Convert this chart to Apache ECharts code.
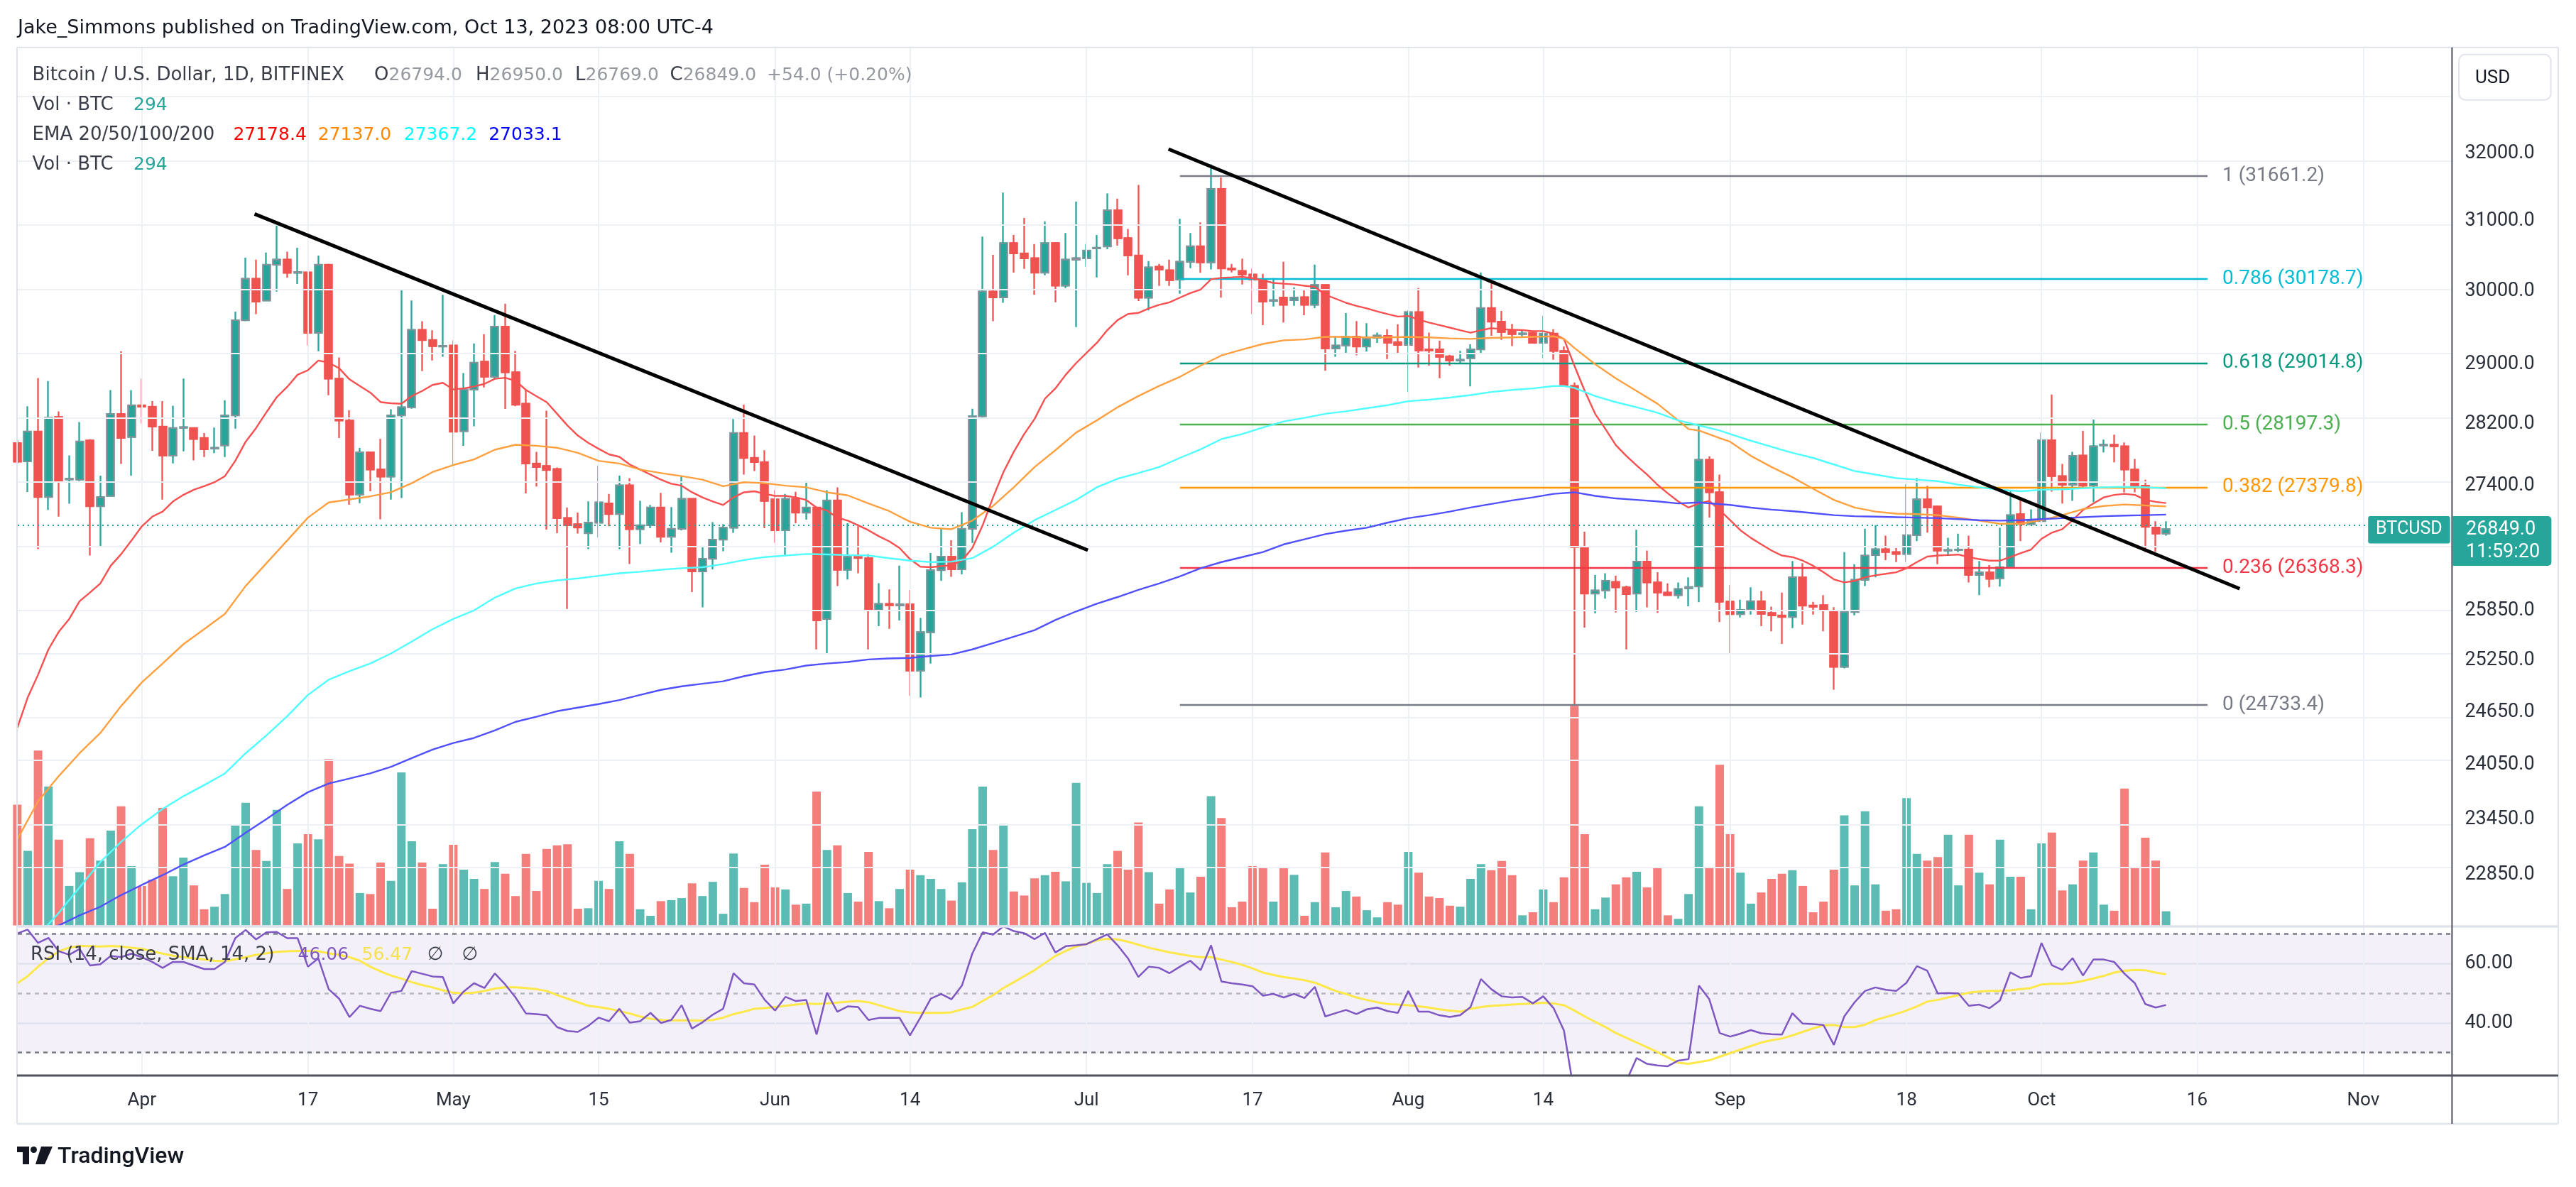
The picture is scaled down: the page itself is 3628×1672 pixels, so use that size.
<!DOCTYPE html>
<html><head><meta charset="utf-8">
<script src="https://cdn.jsdelivr.net/npm/echarts/dist/echarts.min.js"></script>
<style>html,body{margin:0;padding:0;background:#fff}#c{width:3628px;height:1672px}</style>
</head><body><div id="c"></div>
<script>
// Daily candles from 2023-03-20 (index 0) to 2023-10-13 (index 207), BITFINEX BTCUSD 1D
const opens = [
27950,27713,28102,27256,28294,27480,27478,27985,27138,27269,
28334,28031,28449,28430,28168,27790,28150,28148,28018,27880,
27920,28314,29601,30179,29874,30379,30450,30264,30271,29426,
30379,28805,28247,27288,27830,27608,27517,28314,28422,29468,
29328,29240,29255,28107,28660,29034,28830,29513,28891,28470,
27686,27653,27614,26989,26912,26800,26931,27174,27039,27405,
26849,26899,27122,26754,26855,27232,26326,26480,26718,26867,
28083,27758,27705,27225,26836,27232,27058,27122,25748,27213,
26345,26505,26489,25857,25930,25910,25925,25134,25589,26340,
26508,26352,26855,28302,30000,29920,30686,30540,30470,30266,
30686,30082,30450,30470,30610,30640,31160,30757,30510,29915,
30350,30300,30168,30420,30640,30412,31473,30325,30290,30240,
30168,29870,29915,29880,29920,29815,30093,29214,29255,29372,
29240,29360,29386,29300,29262,29713,29200,29200,29107,29050,
29080,29200,29770,29580,29455,29410,29430,29290,29416,29179,
28706,26627,26055,26092,26197,26130,26055,26446,26190,26067,
26036,26120,26140,27733,27316,25956,25805,25860,25962,25820,
25790,25770,26253,25910,25913,25840,25178,25830,26222,26527,
26600,26564,26540,26775,27225,27135,26583,26590,26596,26283,
26315,26240,26377,27040,26912,26950,27988,27523,27413,27790,
27400,27920,27930,27910,27608,27400,26870,26794];
const highs = [
27990,28435,28812,28772,28368,27790,28227,28000,27530,28650,
29175,28650,28805,28503,28503,28443,28805,28150,28083,28155,
28516,29720,30479,30450,30550,30964,30564,30620,30280,30507,
30393,29091,28381,27888,27835,28005,28395,30029,29874,29587,
29461,29955,29325,28880,29283,29409,29674,29830,29180,28660,
27837,28376,27634,27122,27058,27200,27660,27296,27530,27497,
27207,27155,27309,27128,27530,27240,26633,26937,26911,28267,
28456,28049,27857,27342,27296,27322,27459,27128,27342,27380,
26925,26886,26540,26180,26105,26397,26099,25759,26553,26855,
26710,27064,28402,30780,30518,31418,30803,31050,30672,31000,
30700,30830,31286,30672,30803,31406,31330,30890,31530,30430,
30390,30450,31037,30830,30985,31835,31640,30390,30465,30325,
30250,30190,30420,30060,30030,30379,30100,29386,29700,29590,
29560,29430,29478,29545,29740,30050,29430,29320,29128,29180,
29270,30268,30168,29730,29550,29475,29448,29660,29478,29242,
28753,26818,26284,26302,26271,26150,26842,26584,26315,26178,
26190,26253,28182,27778,27543,26160,25980,26130,26086,25895,
26067,26453,26428,25955,26036,25890,26564,26415,26855,26899,
26768,26614,27423,27497,27398,27148,26742,26793,26768,26453,
26403,26868,27329,27251,27100,28088,28592,27680,27837,28110,
28260,27995,28060,27960,27745,27477,26950,26950];
const lows = [
27690,27321,26600,27092,27006,27170,27460,26521,26633,27260,
27680,27530,28207,27850,27223,27686,27843,27725,27770,27820,
27770,28140,29587,29685,29874,30000,30193,30107,29252,29175,
28583,28018,27157,27177,27330,26973,27223,27243,28402,28906,
29049,29100,27672,27915,28170,28687,28796,28400,28435,27302,
27390,26844,26800,25868,26795,26600,26747,26886,26600,26416,
26665,26861,26685,26557,26836,26073,25888,26350,26575,26804,
27543,27589,26862,26680,26529,26925,26968,25384,25332,26147,
26227,26302,25384,25660,25630,25730,24838,24820,25217,26210,
26258,26290,26677,28268,29588,29843,30266,30318,29955,30230,
29850,30050,29505,30350,30200,30600,30650,30230,29867,29738,
30080,30080,29970,30330,30264,30311,29915,30270,30100,29685,
29534,29790,29570,29800,29670,29770,28911,29100,29145,29120,
29170,29290,29070,29140,28625,28953,28980,28810,28980,29000,
28700,29150,29386,29330,29245,29380,29283,29080,29060,28700,
24733.4,25643,25814,25993,25826,25384,25832,25888,25820,26024,
25993,25900,25950,26995,25710,25336,25765,25800,25660,25600,
25450,25637,25680,25800,25600,24910,25160,25790,26147,26253,
26465,26440,26440,26700,26806,26415,26521,26564,26190,26036,
26130,26140,26365,26700,26905,26945,27325,27174,27206,27360,
27190,27830,27700,27316,27316,26563,26570,26769];
const closes = [
27710,28102,27256,28287,27465,27490,27972,27138,27256,28334,
28018,28449,28430,28168,27790,28148,28160,28005,27870,27890,
28314,29601,30179,29860,30379,30450,30264,30275,29426,30379,
28805,28247,27288,27830,27608,27517,28314,28422,29468,29328,
29245,29250,28100,28660,29020,28830,29513,28891,28456,27686,
27640,27601,26989,26900,26870,26931,27187,27039,27405,26849,
26899,27122,26754,26855,27232,26326,26480,26718,26867,28083,
27758,27705,27206,26836,27232,27058,27122,25730,27213,26345,
26505,26490,25857,25930,25912,25925,25134,25589,26340,26508,
26352,26855,28302,30000,29920,30686,30540,30470,30266,30686,
30082,30450,30470,30580,30620,31160,30757,30510,29915,30340,
30311,30160,30420,30640,30412,31473,30325,30311,30240,30168,
29860,29880,29815,29915,29815,30093,29214,29255,29372,29240,
29344,29390,29290,29262,29713,29186,29186,29100,29050,29060,
29200,29770,29580,29440,29410,29420,29290,29416,29179,28706,
26627,26055,26092,26210,26130,26049,26446,26190,26067,26036,
26110,26135,27733,27316,25956,25805,25857,25962,25810,25790,
25770,26253,25907,25895,25857,25178,25830,26222,26521,26600,
26564,26540,26775,27225,27122,26583,26590,26595,26283,26315,
26234,26377,27026,26912,26950,27988,27523,27413,27785,27400,
27910,27930,27910,27608,27400,26880,26794,26849];
const volumes = [
2499,1544,3623,2877,1775,819,1103,1806,1344,1964,
2468,1229,819,945,2436,1019,1407,830,336,389,
651,2069,2541,1565,1334,2394,756,1701,1890,1785,
3444,1439,1281,672,651,1302,924,3171,1743,1302,
347,1271,1670,1155,966,756,1313,1071,609,1481,
714,1586,1659,1680,347,357,924,756,1743,1481,
336,200,504,525,567,872,609,903,242,1491,
777,483,1260,788,746,431,452,2772,1565,1659,
672,494,1523,504,357,756,1155,1040,966,756,
515,893,1995,2877,1565,2100,704,620,977,1040,
1113,914,2951,882,672,1271,1544,1155,2132,1103,
452,746,1187,683,1008,2678,2226,378,494,1229,
1187,494,1208,1050,200,483,1512,378,714,599,
315,168,483,431,1523,1092,599,567,410,389,
966,1271,1145,1334,1040,210,273,746,483,998,
4547,1890,336,578,851,998,1113,788,1187,210,
137,651,2468,1197,3329,1890,1092,452,683,966,
1071,1145,819,273,494,1155,2279,830,2363,851,
305,336,2636,1481,1344,1418,1880,830,1880,1092,
851,1775,1008,1008,336,1701,1922,725,851,1344,
1512,431,305,2835,1187,1817,1344,294];
const ema20 = [
24471,24820,25086,25384,25595,25747,25962,26067,26178,26395,
26538,26708,26886,27007,27071,27200,27283,27348,27393,27445,
27523,27720,27969,28148,28356,28558,28694,28857,28918,29049,
29021,28945,28795,28706,28618,28490,28476,28469,28571,28639,
28720,28748,28660,28673,28700,28734,28802,28816,28775,28653,
28571,28490,28336,28181,28049,27955,27877,27804,27772,27673,
27608,27543,27478,27426,27400,27316,27251,27200,27155,27251,
27316,27329,27296,27270,27270,27251,27219,27122,27084,26995,
26957,26899,26836,26761,26698,26614,26477,26383,26377,26390,
26402,26458,26614,26899,27251,27575,27838,28069,28268,28537,
28673,28857,29014,29153,29290,29464,29603,29687,29702,29765,
29815,29850,29915,29978,30029,30172,30193,30200,30208,30186,
30157,30121,30110,30100,30082,30067,29955,29900,29843,29800,
29765,29723,29687,29652,29659,29610,29568,29534,29499,29464,
29430,29464,29492,29478,29471,29464,29451,29451,29416,29341,
28980,28639,28336,28134,27923,27785,27660,27543,27413,27303,
27200,27122,27174,27206,27090,26963,26836,26741,26660,26583,
26521,26502,26458,26395,26315,26228,26191,26209,26253,26278,
26296,26315,26365,26440,26508,26521,26527,26533,26502,26477,
26458,26458,26502,26552,26596,26729,26806,26849,26963,27090,
27174,27251,27283,27296,27283,27219,27195,27178.4];
// [day index, value]
const ema50 = [[0,23229],[2,23646],[4,23927],[6,24183],[8,24413],[10,24721],[12,24997],[14,25217],[16,25445],[18,25625],[20,25808],[22,26147],[24,26426],[26,26708],[28,26995],[30,27187],[32,27225],[34,27264],[36,27316],[38,27432],[40,27575],[42,27666],[44,27738],[46,27864],[48,27929],[50,27916],[52,27890],[54,27824],[56,27720],[58,27686],[60,27608],[62,27562],[64,27523],[66,27478],[68,27393],[70,27445],[72,27432],[74,27400],[76,27380],[78,27316],[80,27277],[82,27174],[84,27077],[86,26944],[88,26868],[90,26849],[92,26957],[94,27142],[96,27380],[98,27640],[100,27857],[102,28088],[104,28249],[106,28423],[108,28571],[110,28706],[112,28829],[114,28980],[116,29118],[118,29199],[120,29275],[122,29325],[124,29337],[126,29372],[128,29372],[130,29365],[132,29365],[134,29372],[136,29365],[138,29351],[140,29344],[142,29358],[144,29365],[146,29372],[148,29379],[149,29344],[150,29220],[152,29000],[154,28808],[156,28639],[158,28470],[160,28249],[161,28134],[162,28115],[164,28016],[165,27969],[167,27785],[169,27640],[171,27510],[173,27361],[175,27219],[177,27122],[179,27071],[181,27045],[183,27039],[185,27026],[187,26995],[189,26957],[191,26918],[193,26918],[195,26963],[197,27026],[199,27103],[201,27142],[203,27161],[205,27148],[207,27137]];
const ema100 = [[0,21950],[2,22210],[4,22446],[6,22714],[8,22985],[10,23202],[12,23395],[14,23562],[16,23702],[18,23826],[20,23956],[22,24183],[24,24385],[26,24604],[28,24850],[30,25027],[32,25128],[34,25217],[36,25336],[38,25476],[40,25625],[42,25747],[44,25851],[46,26005],[48,26117],[50,26178],[52,26216],[54,26240],[56,26271],[58,26302],[60,26321],[62,26346],[64,26365],[66,26377],[68,26415],[70,26465],[72,26502],[74,26521],[76,26540],[78,26534],[80,26527],[82,26521],[84,26489],[86,26458],[88,26440],[90,26446],[92,26489],[94,26630],[96,26806],[98,26963],[100,27090],[102,27219],[104,27380],[106,27490],[108,27562],[110,27640],[112,27758],[114,27870],[116,28003],[118,28069],[120,28156],[122,28235],[124,28282],[126,28336],[128,28369],[130,28410],[132,28450],[134,28503],[136,28523],[138,28551],[140,28585],[142,28626],[144,28653],[146,28673],[148,28706],[149,28706],[150,28680],[152,28571],[154,28490],[156,28423],[158,28349],[160,28249],[162,28182],[164,28115],[165,28069],[167,27982],[169,27903],[171,27824],[173,27758],[175,27673],[177,27588],[179,27543],[181,27497],[183,27478],[185,27458],[187,27413],[189,27380],[191,27348],[193,27329],[195,27348],[197,27354],[199,27367],[201,27380],[203,27387],[205,27380],[207,27367.2]];
const ema200 = [[0,22180],[2,22240],[4,22314],[6,22420],[8,22510],[10,22633],[12,22741],[14,22845],[16,22958],[18,23056],[20,23148],[22,23302],[24,23451],[26,23607],[28,23747],[30,23843],[32,23899],[34,23956],[36,24030],[38,24127],[40,24224],[42,24298],[44,24356],[46,24442],[48,24540],[50,24598],[52,24662],[54,24703],[56,24744],[58,24791],[60,24850],[62,24909],[64,24950],[66,24980],[68,25009],[70,25068],[72,25116],[74,25146],[76,25193],[78,25217],[80,25235],[82,25265],[84,25277],[86,25283],[88,25306],[90,25324],[92,25384],[94,25458],[96,25535],[98,25613],[100,25735],[102,25838],[104,25931],[106,26012],[108,26099],[110,26178],[112,26265],[114,26365],[116,26440],[118,26502],[120,26564],[122,26660],[124,26724],[126,26787],[128,26831],[130,26868],[132,26931],[134,26988],[136,27026],[138,27071],[140,27122],[142,27168],[144,27213],[146,27251],[148,27296],[150,27316],[152,27270],[154,27238],[156,27219],[158,27200],[160,27174],[162,27187],[165,27155],[167,27122],[169,27096],[171,27077],[173,27052],[175,27026],[177,27013],[179,27007],[181,27001],[183,26995],[185,26988],[187,26976],[189,26963],[191,26957],[193,26963],[195,26976],[197,26988],[199,27001],[201,27013],[203,27020],[205,27026],[207,27033.1]];
const rsi = [
70.2,71.5,67.0,68.7,64.2,63.0,65.0,59.4,59.8,62.6,
62.2,63.4,62.2,60.6,58.6,60.6,60.6,59.4,58.2,58.2,
60.6,68.6,71.4,68.2,70.6,70.7,68.6,68.6,59.0,61.8,
51.4,48.2,42.0,45.8,44.8,44.0,50.2,50.8,57.5,56.6,
55.7,55.5,46.6,50.6,53.4,51.8,56.7,53.0,48.6,43.2,
43.0,42.6,38.6,37.3,37.0,39.0,41.8,40.6,44.8,40.1,
40.6,43.4,40.0,41.0,46.0,38.1,40.2,42.8,44.8,56.8,
53.4,53.0,47.8,44.2,48.8,47.4,47.8,36.1,50.2,43.8,
45.6,45.4,41.0,41.7,41.7,41.7,35.8,41.8,48.2,49.8,
48.0,52.6,63.4,70.6,69.8,72.6,71.0,70.3,68.3,70.4,
63.8,65.9,66.2,66.6,68.2,69.9,66.2,61.8,55.5,59.0,
58.6,56.8,59.0,61.0,57.8,66.2,54.0,53.4,53.0,52.4,
49.2,49.8,48.6,49.8,48.4,52.2,42.2,43.3,44.4,43.0,
44.6,45.2,44.0,43.4,50.8,43.8,43.8,42.6,42.0,42.6,
45.4,54.8,51.4,49.0,48.6,48.8,46.6,49.0,45.0,37.4,
16.0,15.0,16.5,17.5,17.0,20.3,28.2,26.2,25.7,25.4,
27.3,27.8,52.6,48.0,36.6,35.4,36.4,37.6,36.5,36.2,
36.1,43.3,39.8,39.6,39.3,32.6,42.2,47.0,50.8,52.0,
51.2,50.8,53.6,59.2,57.6,50.0,50.1,50.0,45.8,46.2,
45.0,47.6,57.1,55.2,55.8,67.0,59.5,57.9,61.9,56.0,
61.4,61.4,60.6,56.6,53.4,46.4,45.2,46.06];
const rsiMa = [
53.4,55.8,59.0,61.8,64.2,65.4,66.0,65.9,65.8,66.0,
65.8,65.4,65.0,64.2,63.4,62.7,62.2,61.8,61.4,61.0,
60.8,61.5,62.2,63.0,63.5,64.0,64.2,64.3,64.3,64.2,
63.5,63.0,62.2,61.0,59.0,57.4,56.0,55.0,53.8,52.8,
52.0,51.0,50.2,50.0,50.2,50.8,51.6,52.0,52.0,51.8,
51.4,50.8,49.4,48.2,47.0,45.8,45.4,44.8,44.0,43.2,
42.2,41.4,41.0,40.9,40.9,40.8,40.8,41.0,41.8,43.0,
43.8,44.8,45.0,45.4,45.8,46.2,46.6,46.4,46.6,46.9,
47.2,47.4,47.0,46.0,45.0,44.0,43.6,43.4,43.4,43.4,
43.6,44.6,45.4,47.4,49.4,51.8,53.8,55.8,57.8,60.2,
62.6,64.3,65.8,66.7,67.9,68.4,68.2,67.4,66.4,65.4,
64.6,63.8,63.2,62.6,62.2,62.2,61.4,60.6,59.6,58.4,
57.0,56.2,55.5,55.0,54.4,53.6,52.2,50.8,49.8,48.6,
47.8,47.0,46.4,46.2,46.0,45.6,45.2,44.6,44.2,43.8,
44.8,45.4,45.8,46.0,46.2,46.4,46.6,46.8,46.6,46.0,
44.2,42.2,40.4,38.6,36.6,35.0,33.4,31.8,30.2,28.4,
26.6,26.2,26.8,27.4,28.6,29.8,31.0,32.2,33.4,34.2,
34.8,35.8,37.0,38.2,39.2,39.3,38.6,38.6,39.4,41.0,
42.0,43.0,44.2,45.6,47.2,47.8,48.6,49.4,50.2,50.6,
50.8,50.8,51.0,51.4,51.8,53.0,53.2,53.2,53.5,54.2,
55.0,55.9,57.0,57.6,57.9,57.8,57.0,56.47];
// Fibonacci retracement (Jul 10 .. Oct 17)
const fibLevels = ['1','0.786','0.618','0.5','0.382','0.236','0'];
const fibPrices = [31661.2,30178.7,29014.8,28197.3,27379.8,26368.3,24733.4];
const fibColors = ['#787b86','#00bcd4','#089981','#4caf50','#ff9800','#f23645','#787b86'];
const fibRange = [112, 211];
// trend lines: [day index, price]
const trend1 = [[22.86,31107],[103.13,26587]];
const trend2 = [[110.90,32063],[214.09,26114]];
const lastPrice = 26849.0;
const priceTicks = [32000,31000,30000,29000,28200,27400,25850,25250,24650,24050,23450,22850];
const priceGrid = [33000,32000,31000,30000,29000,28200,27400,26600,25850,25250,24650,24050,23450,22850];
const timeTicks = [[12,'Apr'],[28,'17'],[42,'May'],[56,'15'],[73,'Jun'],[86,'14'],[103,'Jul'],[119,'17'],[134,'Aug'],[147,'14'],[165,'Sep'],[182,'18'],[195,'Oct'],[210,'16'],[226,'Nov']];
const rsiTicks = [60,40];

const LN = Math.log;
const X_MIN = 0.044, X_MAX = 234.55;
const P_MIN = 22304, P_MAX = 33623;
const R_MIN = 22.263, R_MAX = 72.563;
const VOL_MAX = 8873;
const GL = 25, GW = 3428.4;
const tickName = {}; timeTicks.forEach(t => tickName[t[0]] = t[1]);

const candleData = closes.map((c,i)=>[i, LN(opens[i]), LN(c), LN(lows[i]), LN(highs[i])]);
const bodyData = closes.map((c,i)=>[i, LN(opens[i]), LN(c), LN(Math.min(opens[i],c)), LN(Math.max(opens[i],c))]);
const volData = volumes.map((v,i)=>({value:[i,v], itemStyle:{color: closes[i]>=opens[i] ? '#5cbcb3' : '#f37e7c'}}));
const lnPairs = arr => arr.map(p => [p[0], LN(p[1])]);

const gridColor = '#edf0f5';
const noLbl = {show:false};
const mlBase = {silent:true, symbol:['none','none'], animation:false, label:noLbl};

const LF = '26px "DejaVu Sans"';
const VF = '25px "DejaVu Sans"';
const NF = '27px Roboto';
const dark = '#3a3d47', grayV = '#96989f';
const T = (x,y,text,fill,font,align) => ({type:'text', z:100, silent:true, style:{x, y, text, fill, font: font||LF, align: align||'left', verticalAlign:'middle'}});
const Ln = (x1,y1,x2,y2,stroke,w) => ({type:'line', z:99, silent:true, shape:{x1,y1,x2,y2}, style:{stroke, lineWidth:w}});

const graphics = [
  T(25,40,'Jake_Simmons published on TradingView.com, Oct 13, 2023 08:00 UTC-4','#131722','27px "DejaVu Sans"'),
  T(45.6,106,'Bitcoin / U.S. Dollar, 1D, BITFINEX',dark),
  T(527,106,'O',dark), T(547.5,106,'26794.0',grayV,VF),
  T(670,106,'H',dark), T(689.6,106,'26950.0',grayV,VF),
  T(810,106,'L',dark), T(824.5,106,'26769.0',grayV,VF),
  T(943.6,106,'C',dark), T(961.7,106,'26849.0',grayV,VF),
  T(1080,106,'+54.0 (+0.20%)',grayV,VF),
  T(45.6,148,'Vol · BTC',dark), T(188,148,'294','#26a69a',VF),
  T(45.6,190,'EMA 20/50/100/200',dark), T(328.4,190,'27178.4','#ff0000',VF), T(447.8,190,'27137.0','#ff8800',VF), T(568.8,190,'27367.2','#00ffff',VF), T(688.2,190,'27033.1','#0000ff',VF),
  T(45.6,232,'Vol · BTC',dark), T(188,232,'294','#26a69a',VF),
  T(43,1345,'RSI (14, close, SMA, 14, 2)',dark), T(419.6,1345,'46.06','#7e57c2',VF), T(509.5,1345,'56.47','#f5e050',VF), T(601.7,1345,'∅',dark), T(650.5,1345,'∅',dark),
  // frame
  Ln(24,66.7,3603,66.7,'#e0e3eb',2), Ln(24,66.7,24,1583,'#e0e3eb',2), Ln(3603,66.7,3603,1583,'#e0e3eb',2), Ln(24,1583,3603,1583,'#e0e3eb',2.5),
  Ln(24,1305,3603,1305,'#e0e3eb',3.5),
  Ln(3453.4,66.7,3453.4,1583,'#50535e',2), Ln(24,1515,3603,1515,'#50535e',3),
  {type:'rect', z:100, silent:true, shape:{x:3463,y:76.7,width:129.7,height:64,r:9}, style:{fill:'#fff', stroke:'#e0e3eb', lineWidth:2}},
  T(3486,110,'USD','#131722','26px Roboto'),
  // TradingView logo
  {type:'rect', z:100, silent:true, shape:{x:24,y:1615,width:17,height:8}, style:{fill:'#131722'}},
  {type:'rect', z:100, silent:true, shape:{x:32,y:1615,width:9,height:25}, style:{fill:'#131722'}},
  {type:'circle', z:100, silent:true, shape:{cx:47.5,cy:1619.5,r:4.5}, style:{fill:'#131722'}},
  {type:'polygon', z:100, silent:true, shape:{points:[[58,1615],[74,1615],[63,1640],[50,1640]]}, style:{fill:'#131722'}},
  T(81,1630,'TradingView','#131722','500 32px Roboto')
];

const fibMarks = fibPrices.map((p,k)=>[
  {coord:[fibRange[0], LN(p)], lineStyle:{color:fibColors[k], width:2.3, type:'solid'},
   label:{show:true, position:'end', distance:21, formatter: fibLevels[k]+' ('+p.toFixed(1)+')', color:fibColors[k], fontSize:28, fontFamily:'Roboto'}},
  {coord:[fibRange[1], LN(p)]}
]);

const emaSeries = (data, color) => ({type:'line', xAxisIndex:0, yAxisIndex:0, data, showSymbol:false, symbol:'none', z:5, silent:true,
  lineStyle:{color, width:2.4}, animation:false});

const option = {
  animation:false,
  backgroundColor:'#ffffff',
  grid:[
    {left:GL, top:66.7, width:GW, height:1238.3},
    {left:GL, top:700, width:GW, height:603.6},
    {left:GL, top:1305, width:GW, height:210}
  ],
  xAxis:[0,1,2].map(g=>({type:'value', gridIndex:g, min:X_MIN, max:X_MAX,
    axisLine:{show:false}, axisTick:{show:false}, splitLine:{show:false},
    axisLabel: g===2 ? {show:true, customValues: timeTicks.map(t=>t[0]), formatter: v => tickName[Math.round(v)] || '',
      margin:35, verticalAlign:'middle', fontSize:26, fontFamily:'Roboto', color:'#2a2e39'} : {show:false}})),
  yAxis:[
    {type:'value', gridIndex:0, position:'right', min:LN(P_MIN), max:LN(P_MAX),
     axisLine:{show:false}, axisTick:{show:false}, splitLine:{show:false},
     axisLabel:{customValues: priceTicks.map(LN), formatter: v => Math.round(Math.exp(v)).toFixed(1), margin:18, fontSize:27, fontFamily:'Roboto', color:'#2a2e39'}},
    {type:'value', gridIndex:1, min:0, max:VOL_MAX, show:false, splitLine:{show:false}},
    {type:'value', gridIndex:2, position:'right', min:R_MIN, max:R_MAX,
     axisLine:{show:false}, axisTick:{show:false}, splitLine:{show:false},
     axisLabel:{customValues: rsiTicks, formatter: v => v.toFixed(2), margin:18, fontSize:27, fontFamily:'Roboto', color:'#2a2e39'}}
  ],
  series:[
    {type:'line', xAxisIndex:0, yAxisIndex:0, data:[], z:0, silent:true,
     markLine:Object.assign({}, mlBase, {lineStyle:{color:gridColor, width:2, type:'solid'},
       data:[...priceGrid.map(p=>({yAxis:LN(p)})), ...timeTicks.map(t=>({xAxis:t[0]}))]})},
    {type:'line', xAxisIndex:2, yAxisIndex:2, data:[], z:0, silent:true,
     markArea:{silent:true, itemStyle:{color:'rgba(126,87,194,0.09)'}, data:[[{yAxis:30},{yAxis:70}]]}},
    {type:'line', xAxisIndex:2, yAxisIndex:2, data:[], z:1, silent:true,
     markLine:Object.assign({}, mlBase, {lineStyle:{color:'#dfe2ec', width:2.5, type:'solid'},
       data:[...rsiTicks.map(v=>({yAxis:v})), ...timeTicks.map(t=>({xAxis:t[0], lineStyle:{color:gridColor, width:2}})),
         {yAxis:70, lineStyle:{color:'#787b86', width:2.5, type:[6,6]}},
         {yAxis:50, lineStyle:{color:'#b5b7bf', width:2.5, type:[6,6]}},
         {yAxis:30, lineStyle:{color:'#787b86', width:2.5, type:[6,6]}}]})},
    {type:'bar', xAxisIndex:1, yAxisIndex:1, data:volData, barWidth:12, z:1, silent:true, animation:false},
    {type:'candlestick', xAxisIndex:0, yAxisIndex:0, data:candleData, barWidth:10.5, z:3, silent:true,
     itemStyle:{color:'#26a69a', color0:'#ef5350', borderColor:'#26a69a', borderColor0:'#ef5350', borderWidth:2.3}},
    {type:'candlestick', xAxisIndex:0, yAxisIndex:0, data:bodyData, barWidth:10.5, z:4, silent:true,
     itemStyle:{color:'#26a69a', color0:'#ef5350', borderColor:'#8b8f98', borderColor0:'#ef5350', borderWidth:1.8}},
    emaSeries(ema20.map((v,i)=>[i, LN(v)]), '#f85050'),
    emaSeries(lnPairs(ema50), '#ffa040'),
    emaSeries(lnPairs(ema100), '#50ffff'),
    emaSeries(lnPairs(ema200), '#5050ff'),
    {type:'line', xAxisIndex:0, yAxisIndex:0, data:[], z:6, silent:true,
     markLine:Object.assign({}, mlBase, {data:[...fibMarks,
       {yAxis:LN(lastPrice), lineStyle:{color:'#26a69a', width:2, type:[2,5]}, label:noLbl}]})},
    {type:'line', xAxisIndex:0, yAxisIndex:0, data:lnPairs(trend1), showSymbol:false, symbol:'none', z:7, silent:true, lineStyle:{color:'#000', width:5}},
    {type:'line', xAxisIndex:0, yAxisIndex:0, data:lnPairs(trend2), showSymbol:false, symbol:'none', z:7, silent:true, lineStyle:{color:'#000', width:5}},
    {type:'line', xAxisIndex:2, yAxisIndex:2, data:rsiMa.map((v,i)=>[i,v]), showSymbol:false, symbol:'none', z:5, silent:true, lineStyle:{color:'#fde84a', width:3}},
    {type:'line', xAxisIndex:2, yAxisIndex:2, data:rsi.map((v,i)=>[i,v]), showSymbol:false, symbol:'none', z:6, silent:true, lineStyle:{color:'#7e57c2', width:2.5}}
  ],
  graphic: graphics
};

const chart = echarts.init(document.getElementById('c'), null, {renderer:'canvas'});
chart.setOption(option);
const yP = chart.convertToPixel({yAxisIndex:0}, LN(lastPrice));
const extra = [
  {type:'rect', z:101, silent:true, shape:{x:3335.2, y:yP-18.5, width:115.4, height:38.5, r:3}, style:{fill:'#26a69a'}},
  T(3392.9, yP+0.5, 'BTCUSD', '#ffffff', '25px Roboto', 'center'),
  {type:'rect', z:101, silent:true, shape:{x:3454.4, y:yP-18.5, width:139, height:70, r:[0,5,5,0]}, style:{fill:'#26a69a'}},
  T(3473, yP+1, lastPrice.toFixed(1), '#ffffff', NF),
  T(3473, yP+32.5, '11:59:20', '#ffffff', NF)
];
extra.forEach(e => { e.z = 102; });
chart.setOption({graphic: graphics.concat(extra)});
</script>
</body></html>
